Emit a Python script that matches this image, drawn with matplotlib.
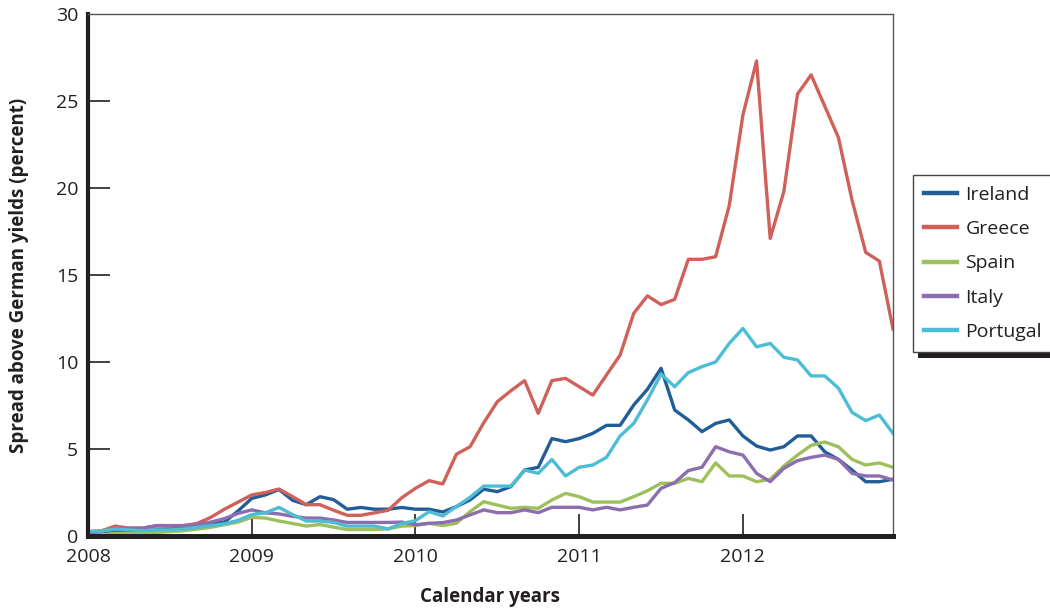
import numpy as np
import matplotlib
matplotlib.use('Agg')
import matplotlib.pyplot as plt
from matplotlib.patches import Rectangle

# Monthly spreads over German bund yields, Jan 2008 - Dec 2012 (percentage points)
months = np.arange(60)
years = 2008 + months / 12

ireland = [0.2, 0.25, 0.3, 0.3, 0.3, 0.35, 0.4, 0.45, 0.55, 0.7, 0.8, 1.44,
           2.16, 2.36, 2.67, 2.05, 1.8, 2.26, 2.09, 1.54, 1.64, 1.54, 1.54, 1.64,
           1.54, 1.54, 1.38, 1.69, 2.07, 2.69, 2.55, 2.84, 3.79, 3.95, 5.6, 5.42,
           5.6, 5.9, 6.36, 6.36, 7.53, 8.43, 9.64, 7.24, 6.67, 6.0, 6.47, 6.67,
           5.75, 5.17, 4.94, 5.13, 5.75, 5.75, 4.84, 4.4, 3.79, 3.12, 3.12, 3.26]
greece = [0.25, 0.3, 0.57, 0.45, 0.45, 0.57, 0.57, 0.6, 0.72, 1.07, 1.54, 1.95,
          2.36, 2.5, 2.7, 2.26, 1.8, 1.8, 1.48, 1.19, 1.19, 1.33, 1.48, 2.2,
          2.74, 3.18, 2.99, 4.7, 5.13, 6.5, 7.72, 8.35, 8.93, 7.05, 8.93, 9.06,
          8.58, 8.1, 9.25, 10.4, 12.8, 13.8, 13.3, 13.6, 15.9, 15.9, 16.05, 19.0,
          24.2, 27.3, 17.1, 19.8, 25.4, 26.5, 24.7, 22.9, 19.3, 16.3, 15.8, 11.9]
spain = [0.05, 0.05, 0.15, 0.15, 0.1, 0.2, 0.25, 0.3, 0.4, 0.5, 0.65, 0.8,
         1.07, 1.03, 0.86, 0.72, 0.57, 0.66, 0.51, 0.37, 0.37, 0.37, 0.41, 0.57,
         0.6, 0.73, 0.6, 0.73, 1.4, 1.97, 1.78, 1.59, 1.65, 1.59, 2.07, 2.45,
         2.26, 1.95, 1.95, 1.95, 2.26, 2.6, 3.03, 3.03, 3.31, 3.12, 4.2, 3.45,
         3.45, 3.12, 3.26, 4.02, 4.65, 5.21, 5.4, 5.13, 4.4, 4.08, 4.2, 3.95]
italy = [0.2, 0.25, 0.4, 0.45, 0.45, 0.6, 0.6, 0.6, 0.65, 0.8, 1.0, 1.3,
         1.5, 1.33, 1.27, 1.13, 1.03, 1.03, 0.92, 0.78, 0.78, 0.78, 0.78, 0.8,
         0.65, 0.73, 0.77, 0.92, 1.21, 1.5, 1.34, 1.34, 1.5, 1.34, 1.65, 1.65,
         1.65, 1.5, 1.65, 1.5, 1.65, 1.78, 2.74, 3.07, 3.76, 3.95, 5.13, 4.84,
         4.65, 3.6, 3.12, 3.89, 4.33, 4.52, 4.65, 4.4, 3.6, 3.45, 3.45, 3.22]
portugal = [0.25, 0.3, 0.4, 0.35, 0.3, 0.35, 0.35, 0.4, 0.5, 0.6, 0.7, 0.9,
            1.23, 1.33, 1.64, 1.23, 0.86, 0.86, 0.78, 0.57, 0.57, 0.57, 0.41, 0.72,
            0.88, 1.4, 1.15, 1.69, 2.22, 2.87, 2.87, 2.87, 3.79, 3.6, 4.4, 3.45,
            3.95, 4.08, 4.52, 5.75, 6.47, 7.82, 9.31, 8.58, 9.39, 9.73, 10.0, 11.07,
            11.93, 10.87, 11.07, 10.27, 10.12, 9.2, 9.2, 8.5, 7.1, 6.63, 6.95, 5.9]

series = [("Ireland", ireland, "#215e97"),
          ("Greece", greece, "#d0605a"),
          ("Spain", spain, "#9dc05c"),
          ("Italy", italy, "#8c6dae"),
          ("Portugal", portugal, "#4dbcd5")]

plt.rcParams['font.family'] = ['Open Sans', 'DejaVu Sans']
ink = "#231f20"

fig = plt.figure(figsize=(10.5, 6.12), dpi=100)
ax = fig.add_axes([88 / 1050, 1 - 536 / 612, (893 - 88) / 1050, (536 - 14) / 612])

for name, vals, col in series:
    ax.plot(years, vals, color=col, lw=2.4, label=name)

ax.set_xlim(2008, 2008 + 59 / 12)
ax.set_ylim(0, 30)
ax.set_xticks([2008, 2009, 2010, 2011, 2012])
ax.set_yticks(range(0, 31, 5))
ax.tick_params(direction='in', length=16, width=1.2, color=ink,
               labelsize=14, labelcolor=ink)
ax.tick_params(axis='x', pad=9)
ax.tick_params(axis='y', pad=7)

ax.spines['left'].set_linewidth(3.0)
ax.spines['bottom'].set_linewidth(3.6)
for side in ['left', 'bottom']:
    ax.spines[side].set_color(ink)
for side in ['top', 'right']:
    ax.spines[side].set_linewidth(1.0)
    ax.spines[side].set_color("#555555")

ax.set_xlabel("Calendar years", fontsize=13.5, fontweight='bold', color=ink)
ax.set_ylabel("Spread above German yields (percent)", fontsize=13.5,
              fontweight='bold', color=ink)
ax.xaxis.set_label_coords(0.5, -0.098)
ax.yaxis.set_label_coords(-0.073, 0.5)

leg = ax.legend(loc='upper left', bbox_to_anchor=(913 / 1050, 1 - 175 / 612),
                bbox_transform=fig.transFigure, fontsize=14, frameon=True,
                fancybox=False, handlelength=1.7, handletextpad=0.45,
                labelspacing=0.84, borderpad=0.55, borderaxespad=0)
leg.get_frame().set_edgecolor("#444444")
leg.get_frame().set_linewidth(1.0)
leg.get_frame().set_alpha(1)
for t in leg.get_texts():
    t.set_color(ink)
for h in leg.get_lines():
    h.set_linewidth(3.2)

# dark drop shadow under the legend box
fig.canvas.draw()
bb = leg.get_frame().get_window_extent()
inv = fig.transFigure.inverted()
(x0, y0), (x1, y1) = inv.transform([(bb.x0 + 5, bb.y0 - 6), (bb.x1 + 5, bb.y1 - 6)])
fig.add_artist(Rectangle((x0, y0), x1 - x0, y1 - y0, transform=fig.transFigure,
                         facecolor=ink, edgecolor='none', zorder=-1))

# tick marks at 0 and 30 sit on the spines, hide them
yt = ax.yaxis.get_major_ticks()
yt[0].tick1line.set_visible(False)
yt[-1].tick1line.set_visible(False)
ax.xaxis.get_major_ticks()[0].tick1line.set_visible(False)

fig.savefig("out.png", dpi=100)
